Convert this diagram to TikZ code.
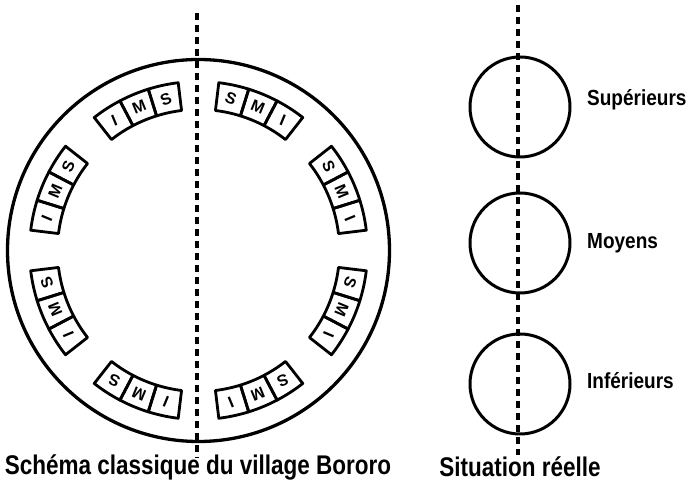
\documentclass[tikz,border=0pt]{standalone}
\usepackage{fontspec}
\setmainfont{Liberation Sans}
\usetikzlibrary{positioning}

\begin{document}
\begin{tikzpicture}[x=1pt,y=1pt,font=\bfseries,
  ring/.style={draw,circle,inner sep=0pt,line width=3.3pt},
  small/.style={draw,circle,inner sep=0pt,minimum size=100pt,line width=3pt},
  axis/.style={line width=3.2pt,dash pattern=on 7pt off 5pt},
  cell/.style={line width=2.8pt,line join=round},
  letter/.style={inner sep=0pt,font=\fontsize{16}{16}\selectfont\bfseries},
  caption/.style={inner sep=0pt,yscale=1.2,font=\fontsize{22.5}{24}\selectfont\bfseries},
  lbl/.style={inner sep=0pt,yscale=1.15,font=\fontsize{19}{20}\selectfont\bfseries}]
\useasboundingbox (0,0) rectangle (689,492);
% village ring
\node[ring,minimum size=382pt] (village) at (198.5,241.5) {};
\begin{scope}[shift={(village.center)}]
  \foreach \a/\s in {22.5/1,67.5/1,-22.5/1,-67.5/1,112.5/-1,157.5/-1,202.5/-1,247.5/-1}
    \foreach \k/\l in {1/S,0/M,-1/I} {
      \pgfmathsetmacro{\c}{\a+\s*\k*10.4}
      \pgfmathsetmacro{\b}{\c-5.2}
      \pgfmathsetmacro{\e}{\c+5.2}
      \draw[cell] (\b:141) -- (\b:169) arc[start angle=\b,end angle=\e,radius=169]
        -- (\e:141) arc[start angle=\e,end angle=\b,radius=141] -- cycle;
      \node[letter,rotate=\a-90] at (\c:155) {\l};
    }
\end{scope}
% real situation
\node[small] (sup) at (520,385) {};
\node[small] (moy) at (520,249) {};
\node[small] (inf) at (520,108) {};
\node[lbl,anchor=west] (supl) at (587,392) {Supérieurs};
\node[lbl,anchor=west] (moyl) at (587,249) {Moyens};
\node[lbl,anchor=west] (infl) at (587,111) {Inférieurs};
% axes
\coordinate (axT) at (197,479);
\coordinate (axB) at (197,34);
\coordinate (reT) at (518,487);
\coordinate (reB) at (518,37);
\draw[axis] (axT) -- (axB);
\draw[axis] (reT) -- (reB);
% captions
\node[caption] (cap1) at (198,25) {Schéma classique du village Bororo};
\node[caption] (cap2) at (520,25) {Situation réelle};
\end{tikzpicture}
\end{document}
